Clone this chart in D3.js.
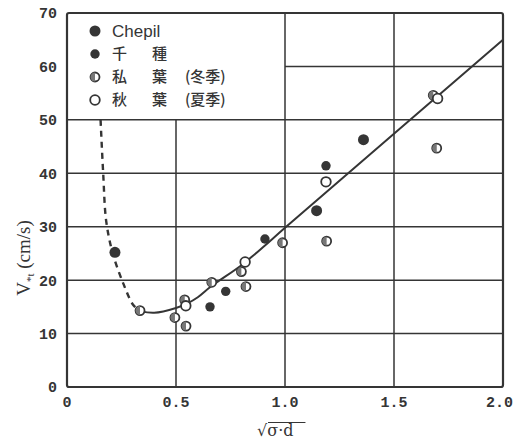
<!DOCTYPE html>
<html>
<head>
<meta charset="utf-8">
<script src="https://cdn.jsdelivr.net/npm/d3@7"></script>
<style>
  body { margin: 0; background: #fff; }
  svg { display: block; }
</style>
</head>
<body>
<svg id="chart" width="514" height="442"></svg>
<script>
// data: [sqrt(sigma*d), V*t]
const chepil = [[0.22, 25.2], [1.145, 33.0], [1.36, 46.3]];
const chikusa = [[0.656, 15.0], [0.728, 17.9], [0.908, 27.7], [1.188, 41.4]];
const akibaWinter = [[0.335, 14.3], [0.495, 13.0], [0.546, 11.4], [0.54, 16.3], [0.664, 19.6],
  [0.80, 21.6], [0.821, 18.8], [0.989, 27.0], [1.191, 27.3], [1.68, 54.6], [1.696, 44.7]];
const akibaSummer = [[0.545, 15.2], [0.817, 23.4], [1.188, 38.4], [1.70, 54.0]];

const fitSolid = [[0.335, 14.2], [0.4, 13.9], [0.5, 14.8], [0.55, 15.6], [0.6, 16.8],
  [0.66, 18.8], [0.8, 22.8], [0.9, 26.2], [1.0, 29.8], [2.0, 65.0]];
const fitDashed = [[0.154, 50], [0.166, 40], [0.18, 31], [0.21, 25], [0.258, 19.4],
  [0.303, 15.4], [0.335, 14.2]];

const xTicks = [0, 0.5, 1.0, 1.5, 2.0];
const xTickLabels = ['0', '0.5', '1.0', '1.5', '2.0'];
const yTicks = [0, 10, 20, 30, 40, 50, 60, 70];

const legendItems = [
  {label: ['Chepil'], type: 'big'},
  {label: ['千', '種'], type: 'filled'},
  {label: ['私', '葉', '(冬季)'], type: 'half'},
  {label: ['秋', '葉', '(夏季)'], type: 'open'}
];

const ink = '#353535';
const svg = d3.select('#chart');
const width = 514, height = 442;
const margin = {top: 13, right: 11, bottom: 55, left: 67};

const x = d3.scaleLinear().domain([0, 2]).range([margin.left, width - margin.right]);
const y = d3.scaleLinear().domain([0, 70]).range([height - margin.bottom, margin.top]);

// grid (legend box sits in the upper left, no grid there)
const grid = svg.append('g').attr('stroke', ink).attr('stroke-width', 1.5);
[10, 20, 30, 40, 50].forEach(v => {
  grid.append('line').attr('x1', x(0)).attr('x2', x(2)).attr('y1', y(v)).attr('y2', y(v));
});
grid.append('line').attr('x1', x(1)).attr('x2', x(2)).attr('y1', y(60)).attr('y2', y(60));
grid.append('line').attr('x1', x(0.5)).attr('x2', x(0.5)).attr('y1', y(0)).attr('y2', y(50));
[1.0, 1.5].forEach(v => {
  grid.append('line').attr('x1', x(v)).attr('x2', x(v)).attr('y1', y(0)).attr('y2', y(70));
});

// frame
svg.append('rect')
  .attr('x', x(0)).attr('y', y(70))
  .attr('width', x(2) - x(0)).attr('height', y(0) - y(70))
  .attr('rx', 2)
  .attr('fill', 'none').attr('stroke', ink).attr('stroke-width', 2.2);

// axes labels
const tickFont = "'Liberation Mono', monospace";
svg.append('g')
  .selectAll('text')
  .data(yTicks)
  .enter()
  .append('text')
  .attr('x', 57)
  .attr('y', d => y(d))
  .attr('dy', '0.36em')
  .attr('text-anchor', 'end')
  .attr('font-family', tickFont)
  .attr('font-weight', 'bold')
  .attr('font-size', 15)
  .attr('fill', ink)
  .text(d => d);

svg.append('g')
  .selectAll('text')
  .data(xTicks)
  .enter()
  .append('text')
  .attr('x', d => d === 2 ? width - 1 : x(d))
  .attr('y', 402)
  .attr('dy', '0.36em')
  .attr('text-anchor', d => d === 2 ? 'end' : 'middle')
  .attr('font-family', tickFont)
  .attr('font-weight', 'bold')
  .attr('font-size', 15)
  .attr('fill', ink)
  .text((d, i) => xTickLabels[i]);

// y title
const yTitle = svg.append('text')
  .attr('transform', 'translate(30,258) rotate(-90)')
  .attr('text-anchor', 'middle')
  .attr('font-family', "'Liberation Serif', serif")
  .attr('font-size', 19)
  .attr('fill', ink);
yTitle.append('tspan').text('V');
yTitle.append('tspan').attr('font-size', 11).attr('dy', 4).text('*t');
yTitle.append('tspan').attr('dy', -4).text('  (cm/s)');

// x title  sqrt(sigma . d)
const xTitle = svg.append('text')
  .attr('x', 257)
  .attr('y', 436)
  .attr('font-family', "'DejaVu Serif', serif")
  .attr('font-size', 16)
  .attr('fill', ink);
xTitle.append('tspan').text('√');
xTitle.append('tspan').text('σ·d');
const bb = xTitle.node().getBBox();
svg.append('line')
  .attr('x1', bb.x + 11).attr('x2', bb.x + bb.width + 12)
  .attr('y1', bb.y + 1.5).attr('y2', bb.y + 1.5)
  .attr('stroke', ink).attr('stroke-width', 1.2);

// fitted curves
const line = d3.line().x(d => x(d[0])).y(d => y(d[1])).curve(d3.curveCatmullRom);
svg.append('path')
  .attr('d', line(fitSolid))
  .attr('fill', 'none').attr('stroke', ink).attr('stroke-width', 2);
svg.append('path')
  .attr('d', line(fitDashed))
  .attr('fill', 'none').attr('stroke', ink).attr('stroke-width', 2.4)
  .attr('stroke-dasharray', '6,5');

// markers
function marker(g, type, cx, cy) {
  if (type === 'big') {
    g.append('circle').attr('cx', cx).attr('cy', cy).attr('r', 5.5).attr('fill', ink);
  } else if (type === 'filled') {
    g.append('circle').attr('cx', cx).attr('cy', cy).attr('r', 4.7).attr('fill', ink);
  } else if (type === 'half') {
    g.append('circle').attr('cx', cx).attr('cy', cy).attr('r', 4.5)
      .attr('fill', '#fff').attr('stroke', ink).attr('stroke-width', 1.8);
    const r = 4.5;
    g.append('path')
      .attr('d', `M${cx},${cy - r} A${r},${r} 0 0 0 ${cx},${cy + r} Z`)
      .attr('fill', '#777');
  } else {
    g.append('circle').attr('cx', cx).attr('cy', cy).attr('r', 4.8)
      .attr('fill', '#fff').attr('stroke', ink).attr('stroke-width', 1.8);
  }
}

const pts = svg.append('g');
[[akibaWinter, 'half'], [akibaSummer, 'open'], [chikusa, 'filled'], [chepil, 'big']]
  .forEach(([data, type]) => {
    data.forEach(d => marker(pts, type, x(d[0]), y(d[1])));
  });

// legend
const leg = svg.append('g');
const rowY = d3.scaleLinear().domain([0, 3]).range([31, 100]);
const colX = [112, 152, 185];
legendItems.forEach((item, i) => {
  const cy = rowY(i);
  marker(leg, item.type, 95, cy);
  item.label.forEach((t, j) => {
    leg.append('text')
      .attr('x', colX[j])
      .attr('y', cy)
      .attr('dy', '0.36em')
      .attr('font-family', i === 0 ? "'Liberation Sans', sans-serif" : "'Noto Sans CJK JP', sans-serif")
      .attr('font-size', i === 0 ? 17 : 15)
      .attr('font-weight', 500)
      .attr('fill', ink)
      .text(t);
  });
});
</script>
</body>
</html>
